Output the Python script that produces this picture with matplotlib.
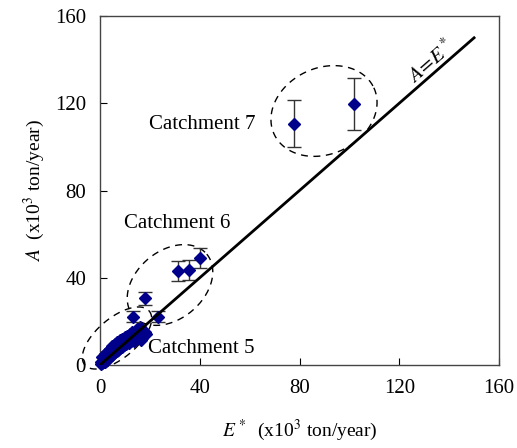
import numpy as np
import matplotlib
matplotlib.use('Agg')
import matplotlib.pyplot as plt

plt.rcParams['font.family'] = ['Liberation Serif', 'DejaVu Serif']
plt.rcParams['mathtext.fontset'] = 'stix'

# catchment 5 (dense cluster near origin)
e5 = [0.3, 0.6, 1.0, 1.2, 1.5, 1.8, 2.0, 2.3, 2.6, 3.0, 3.2, 3.5, 3.8, 4.0, 4.3,
      4.6, 5.0, 5.2, 5.5, 5.8, 6.0, 6.4, 6.8, 7.0, 7.3, 7.7, 8.0, 8.4, 8.8, 9.0,
      9.5, 10.0, 10.5, 11.0, 11.5, 12.0, 12.5, 13.0, 13.5, 14.0, 14.5, 15.0,
      15.5, 16.0, 16.5, 17.0, 17.5, 18.0, 15.0, 16.0, 14.0, 2.5, 4.5, 6.5, 9.0,
      1.0, 2.0, 3.0, 4.0, 5.0, 6.0, 7.0, 8.0, 9.0, 10.0, 11.0, 12.0, 13.0,
      1.5, 3.5, 5.5, 7.5, 9.5, 11.5, 13.5, 17.0, 18.5, 16.5]
a5 = [0.4, 1.2, 0.8, 2.0, 1.5, 2.8, 1.6, 3.2, 2.4, 3.8, 2.8, 4.5, 3.5, 5.2, 4.0,
      5.8, 4.6, 6.5, 5.4, 7.2, 5.8, 7.6, 6.4, 8.4, 7.0, 8.8, 7.6, 9.4, 8.2, 9.8,
      9.0, 10.2, 9.6, 10.8, 10.2, 11.4, 10.8, 12.0, 11.2, 12.6, 12.0, 13.0,
      12.6, 14.0, 13.2, 14.6, 13.6, 15.0, 16.5, 17.5, 15.0, 4.0, 6.5, 8.8, 11.0,
      3.5, 5.0, 6.0, 7.5, 8.5, 9.5, 10.5, 11.5, 12.0, 12.8, 13.5, 14.2, 15.0,
      4.0, 6.5, 8.0, 10.0, 11.5, 13.0, 14.5, 12.5, 14.0, 11.5]

# catchment 6
e6 = [13.4, 18.1, 23.4, 31.4, 35.5, 40.2]
a6 = [22.2, 30.6, 22.2, 43.3, 43.6, 48.9]
err6 = [2.5, 3.0, 2.7, 4.6, 4.6, 4.6]

# catchment 7
e7 = [77.9, 101.7]
a7 = [110.6, 119.7]
err7 = [10.7, 11.8]

W, H = 517, 448
fig = plt.figure(figsize=(W / 100, H / 100), dpi=100)
ax = fig.add_axes([100 / W, 1 - 365 / H, 399 / W, 349 / H])
ax.set_xlim(0, 160)
ax.set_ylim(0, 160)

navy = '#00008b'
ax.plot(e5, a5, 'D', color=navy, ms=6.5, mec=navy, clip_on=False, zorder=3)
ax.errorbar(e6, a6, yerr=err6, fmt='D', color=navy, ms=6.5, ecolor='#333333',
            elinewidth=1, capsize=5, capthick=1, zorder=3)
ax.errorbar(e7, a7, yerr=err7, fmt='D', color=navy, ms=6.5, ecolor='#333333',
            elinewidth=1, capsize=5, capthick=1, zorder=3)

ax.plot([0, 150], [0, 150], color='black', lw=2, zorder=4)

# dashed ellipses, shape given in pixels (y measured from top), mapped to data
def ellipse(cx, cy, a, b, ang):
    t = np.linspace(0, 2 * np.pi, 200)
    th = np.deg2rad(ang)
    x = cx + a * np.cos(t) * np.cos(th) - b * np.sin(t) * np.sin(th)
    y = cy + a * np.cos(t) * np.sin(th) + b * np.sin(t) * np.cos(th)
    pts = np.column_stack([x, H - y])
    d = ax.transData.inverted().transform(pts)
    ax.plot(d[:, 0], d[:, 1], color='black', lw=1, dashes=(5, 4), clip_on=False)

ellipse(324, 111, 55, 43, -25)
ellipse(170, 285, 48, 34, -40)
ellipse(117, 338, 42, 20, -40)

for label, px, py in [('Catchment 7', 202, 124), ('Catchment 6', 177, 223),
                      ('Catchment 5', 201, 348)]:
    ax.text(px, H - py, label, fontsize=15, ha='center', va='center',
            transform=None)

ax.text(133, 139, r'$A\!=\!E^*$', fontsize=15, rotation=41, ha='center', va='center')

ax.set_xticks([0, 40, 80, 120, 160])
ax.set_yticks([0, 40, 80, 120, 160])
ax.tick_params(direction='in', length=5, labelsize=15, pad=10)
for s in ax.spines.values():
    s.set_color('#444444')
    s.set_linewidth(1)

ax.set_xlabel(r'$E^*$  (x10$^3$ ton/year)', fontsize=14, labelpad=14)
ax.set_ylabel(r'$A$  (x10$^3$ ton/year)', fontsize=14, labelpad=6)

fig.savefig('out.png', dpi=100)
